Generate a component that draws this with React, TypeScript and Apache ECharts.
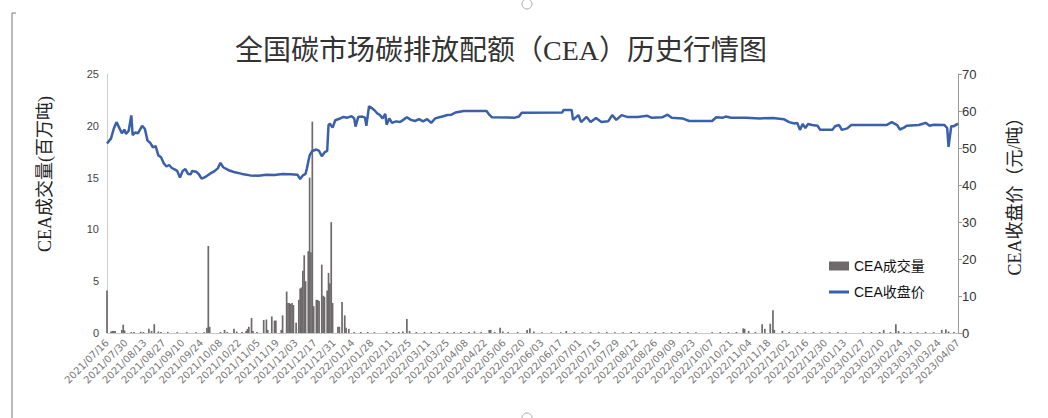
import React, { useEffect, useRef } from "react";
import * as echarts from "echarts";

const START_DATE = "2021-07-16";
const END_DATE = "2023-04-07";
const chartTitle = "全国碳市场碳排放配额（CEA）历史行情图";
const leftAxisName = "CEA成交量(百万吨)";
const rightAxisName = "CEA收盘价（元/吨）";
const volumeName = "CEA成交量";
const priceName = "CEA收盘价";
const volumeTicks = [0, 5, 10, 15, 20, 25];
const priceTicks = [0, 10, 20, 30, 40, 50, 60, 70];
const dateTickDays = 14;

// CEA closing price (yuan/ton)
const priceData: [string, number][] = [
  ["2021-07-16", 51.2], ["2021-07-19", 52.6], ["2021-07-21", 55.2], ["2021-07-23", 57.0],
  ["2021-07-25", 55.5], ["2021-07-27", 54.0], ["2021-07-29", 55.0], ["2021-07-30", 53.8],
  ["2021-08-01", 54.6], ["2021-08-03", 58.8], ["2021-08-04", 53.5], ["2021-08-06", 54.2],
  ["2021-08-08", 54.0], ["2021-08-11", 56.0], ["2021-08-13", 55.2], ["2021-08-15", 52.0],
  ["2021-08-17", 51.4], ["2021-08-19", 50.2], ["2021-08-21", 50.5], ["2021-08-23", 48.0],
  ["2021-08-25", 47.5], ["2021-08-27", 45.9], ["2021-08-29", 45.0], ["2021-08-31", 45.4],
  ["2021-09-02", 44.6], ["2021-09-04", 44.2], ["2021-09-06", 43.8], ["2021-09-08", 42.0],
  ["2021-09-10", 43.8], ["2021-09-12", 44.3], ["2021-09-14", 43.0], ["2021-09-16", 42.9],
  ["2021-09-17", 43.8], ["2021-09-20", 43.6], ["2021-09-22", 42.9], ["2021-09-24", 41.7],
  ["2021-09-27", 42.2], ["2021-09-30", 43.0], ["2021-10-03", 43.6], ["2021-10-06", 44.5],
  ["2021-10-08", 46.0], ["2021-10-10", 44.8], ["2021-10-14", 44.0], ["2021-10-18", 43.5],
  ["2021-10-24", 43.0], ["2021-10-30", 42.6], ["2021-11-05", 42.5], ["2021-11-11", 42.8],
  ["2021-11-17", 42.7], ["2021-11-23", 43.0], ["2021-11-29", 42.9], ["2021-12-04", 42.8],
  ["2021-12-06", 41.6], ["2021-12-08", 42.6], ["2021-12-10", 43.0], ["2021-12-11", 44.5],
  ["2021-12-13", 48.0], ["2021-12-15", 49.2], ["2021-12-18", 49.6], ["2021-12-20", 49.2],
  ["2021-12-22", 47.8], ["2021-12-24", 48.8], ["2021-12-26", 49.2], ["2021-12-27", 56.2],
  ["2021-12-28", 56.6], ["2021-12-30", 55.5], ["2022-01-01", 57.5], ["2022-01-04", 57.9],
  ["2022-01-07", 58.4], ["2022-01-10", 58.2], ["2022-01-13", 58.6], ["2022-01-15", 58.0],
  ["2022-01-16", 55.8], ["2022-01-18", 58.4], ["2022-01-21", 58.5], ["2022-01-23", 58.2],
  ["2022-01-24", 56.0], ["2022-01-26", 61.3], ["2022-01-28", 60.8], ["2022-01-30", 60.2],
  ["2022-02-01", 59.4], ["2022-02-03", 58.9], ["2022-02-05", 58.0], ["2022-02-07", 59.2],
  ["2022-02-08", 56.3], ["2022-02-10", 58.0], ["2022-02-12", 56.8], ["2022-02-15", 57.2],
  ["2022-02-18", 57.0], ["2022-02-21", 57.8], ["2022-02-23", 58.3], ["2022-02-26", 57.6],
  ["2022-03-01", 57.3], ["2022-03-04", 57.8], ["2022-03-07", 57.2], ["2022-03-10", 57.8],
  ["2022-03-13", 56.8], ["2022-03-16", 58.0], ["2022-03-19", 58.3], ["2022-03-22", 58.6],
  ["2022-03-25", 58.9], ["2022-03-28", 59.0], ["2022-03-31", 59.6], ["2022-04-03", 59.8],
  ["2022-04-06", 60.0], ["2022-04-23", 60.0], ["2022-04-25", 59.0], ["2022-04-27", 58.3],
  ["2022-05-14", 58.2], ["2022-05-17", 58.5], ["2022-05-19", 59.5], ["2022-06-18", 59.6],
  ["2022-06-19", 60.3], ["2022-06-25", 60.3], ["2022-06-26", 57.6], ["2022-06-30", 58.9],
  ["2022-07-02", 57.0], ["2022-07-06", 58.4], ["2022-07-09", 57.0], ["2022-07-13", 58.1],
  ["2022-07-17", 57.0], ["2022-07-22", 57.2], ["2022-07-25", 58.9], ["2022-07-28", 57.6],
  ["2022-08-01", 58.9], ["2022-08-05", 58.4], ["2022-08-13", 58.4], ["2022-08-20", 58.7],
  ["2022-08-23", 58.2], ["2022-08-31", 58.3], ["2022-09-04", 59.0], ["2022-09-07", 58.2],
  ["2022-09-15", 58.0], ["2022-09-20", 57.3], ["2022-10-07", 57.3], ["2022-10-10", 58.3],
  ["2022-10-15", 58.2], ["2022-10-17", 58.5], ["2022-10-21", 58.2], ["2022-11-01", 58.2],
  ["2022-11-11", 58.0], ["2022-11-21", 58.1], ["2022-11-29", 57.8], ["2022-12-03", 57.0],
  ["2022-12-07", 56.6], ["2022-12-09", 56.8], ["2022-12-11", 54.9], ["2022-12-13", 56.5],
  ["2022-12-15", 55.4], ["2022-12-17", 56.5], ["2022-12-20", 56.2], ["2022-12-24", 56.0],
  ["2022-12-26", 54.9], ["2023-01-04", 54.9], ["2023-01-06", 55.9], ["2023-01-09", 56.2],
  ["2023-01-11", 54.9], ["2023-01-15", 55.3], ["2023-01-18", 56.2], ["2023-02-13", 56.2],
  ["2023-02-17", 57.0], ["2023-02-21", 56.2], ["2023-02-23", 55.0], ["2023-02-26", 55.5],
  ["2023-02-28", 56.0], ["2023-03-09", 56.2], ["2023-03-14", 56.8], ["2023-03-17", 56.0],
  ["2023-03-20", 56.3], ["2023-03-28", 56.2], ["2023-03-30", 55.4], ["2023-03-31", 50.3],
  ["2023-04-02", 55.9], ["2023-04-04", 55.9], ["2023-04-07", 56.6],
];

// CEA trading volume (million tons)
const volumeData: [string, number][] = [
  ["2021-07-16", 4.1], ["2021-07-19", 0.15], ["2021-07-20", 0.2], ["2021-07-21", 0.2],
  ["2021-07-22", 0.2], ["2021-07-27", 0.3], ["2021-07-28", 0.8], ["2021-07-29", 0.25],
  ["2021-08-03", 0.1], ["2021-08-05", 0.1], ["2021-08-10", 0.12], ["2021-08-12", 0.1],
  ["2021-08-16", 0.4], ["2021-08-18", 0.2], ["2021-08-20", 0.85], ["2021-08-23", 0.15],
  ["2021-08-25", 0.1], ["2021-08-30", 0.1], ["2021-09-06", 0.08], ["2021-09-13", 0.08],
  ["2021-09-20", 0.08], ["2021-09-26", 0.08], ["2021-09-28", 0.5], ["2021-09-29", 8.4],
  ["2021-09-30", 0.6], ["2021-10-08", 0.1], ["2021-10-11", 0.3], ["2021-10-13", 0.1],
  ["2021-10-18", 0.4], ["2021-10-20", 0.15], ["2021-10-24", 0.1], ["2021-10-27", 0.2],
  ["2021-10-28", 0.4], ["2021-10-29", 0.6], ["2021-10-31", 1.45], ["2021-11-01", 0.2],
  ["2021-11-04", 0.1], ["2021-11-09", 1.25], ["2021-11-11", 1.3], ["2021-11-12", 0.3],
  ["2021-11-15", 1.6], ["2021-11-17", 1.2], ["2021-11-18", 1.2], ["2021-11-22", 0.3],
  ["2021-11-23", 1.7], ["2021-11-26", 4.0], ["2021-11-27", 2.9], ["2021-11-28", 2.9],
  ["2021-11-29", 2.8], ["2021-11-30", 2.9], ["2021-12-01", 2.7], ["2021-12-03", 1.0],
  ["2021-12-05", 3.2], ["2021-12-06", 4.3], ["2021-12-07", 4.4], ["2021-12-08", 6.0],
  ["2021-12-09", 7.5], ["2021-12-10", 5.0], ["2021-12-12", 7.9], ["2021-12-13", 15.0],
  ["2021-12-14", 7.8], ["2021-12-15", 20.4], ["2021-12-16", 2.6], ["2021-12-18", 3.2],
  ["2021-12-19", 3.2], ["2021-12-20", 3.1], ["2021-12-22", 6.6], ["2021-12-23", 3.6],
  ["2021-12-24", 3.5], ["2021-12-26", 4.1], ["2021-12-27", 5.8], ["2021-12-28", 4.8],
  ["2021-12-29", 10.7], ["2021-12-30", 2.9], ["2022-01-03", 0.6], ["2022-01-04", 0.6],
  ["2022-01-06", 3.0], ["2022-01-08", 1.7], ["2022-01-09", 0.5], ["2022-01-11", 0.4],
  ["2022-01-15", 0.1], ["2022-01-20", 0.1], ["2022-01-25", 0.1], ["2022-01-30", 0.08],
  ["2022-02-08", 0.1], ["2022-02-13", 0.1], ["2022-02-17", 0.1], ["2022-02-20", 0.15],
  ["2022-02-23", 1.35], ["2022-02-25", 0.2], ["2022-03-02", 0.1], ["2022-03-08", 0.1],
  ["2022-03-13", 0.1], ["2022-03-19", 0.1], ["2022-03-25", 0.1], ["2022-03-30", 0.1],
  ["2022-04-04", 0.1], ["2022-04-10", 0.1], ["2022-04-14", 0.15], ["2022-04-19", 0.1],
  ["2022-04-25", 0.3], ["2022-04-26", 0.3], ["2022-04-29", 0.1], ["2022-05-03", 0.5],
  ["2022-05-05", 0.15], ["2022-05-09", 0.1], ["2022-05-16", 0.1], ["2022-05-23", 0.3],
  ["2022-05-25", 0.45], ["2022-05-28", 0.15], ["2022-06-03", 0.08], ["2022-06-10", 0.08],
  ["2022-06-17", 0.08], ["2022-06-21", 0.2], ["2022-06-27", 0.1], ["2022-07-03", 0.08],
  ["2022-07-09", 0.1], ["2022-07-15", 0.08], ["2022-07-21", 0.1], ["2022-07-27", 0.08],
  ["2022-08-02", 0.08], ["2022-08-08", 0.1], ["2022-08-14", 0.08], ["2022-08-20", 0.08],
  ["2022-08-26", 0.1], ["2022-09-01", 0.08], ["2022-09-07", 0.08], ["2022-09-13", 0.1],
  ["2022-09-19", 0.08], ["2022-09-25", 0.08], ["2022-10-07", 0.08], ["2022-10-13", 0.1],
  ["2022-10-19", 0.08], ["2022-10-25", 0.1], ["2022-10-30", 0.45], ["2022-10-31", 0.4],
  ["2022-11-03", 0.2], ["2022-11-08", 0.1], ["2022-11-13", 0.85], ["2022-11-15", 0.4],
  ["2022-11-19", 0.9], ["2022-11-21", 2.2], ["2022-11-22", 0.3], ["2022-11-28", 0.2],
  ["2022-12-03", 0.1], ["2022-12-09", 0.1], ["2022-12-15", 0.08], ["2022-12-21", 0.1],
  ["2022-12-27", 0.08], ["2023-01-02", 0.08], ["2023-01-08", 0.1], ["2023-01-14", 0.08],
  ["2023-01-27", 0.08], ["2023-02-02", 0.1], ["2023-02-08", 0.1], ["2023-02-11", 0.3],
  ["2023-02-16", 0.1], ["2023-02-20", 0.85], ["2023-02-22", 0.2], ["2023-02-26", 0.1],
  ["2023-03-03", 0.1], ["2023-03-08", 0.08], ["2023-03-14", 0.1], ["2023-03-20", 0.08],
  ["2023-03-26", 0.3], ["2023-03-29", 0.35], ["2023-03-31", 0.15], ["2023-04-04", 0.1],
];

const DAY = 86400000;
const startMs = Date.parse(START_DATE + "T00:00:00Z");
const toDay = (s: string) => Math.round((Date.parse(s + "T00:00:00Z") - startMs) / DAY);
const pad = (n: number) => (n < 10 ? "0" + n : "" + n);
const fmtDay = (v: number) => {
  const d = new Date(startMs + Math.round(v) * DAY);
  return `${d.getUTCFullYear()}/${pad(d.getUTCMonth() + 1)}/${pad(d.getUTCDate())}`;
};

const CJK = "'Noto Sans CJK SC'";
const PRICE_COLOR = "#3a5fab";
const VOLUME_COLOR = "#6e696a";

export default function App() {
  const ref = useRef<HTMLDivElement>(null);
  useEffect(() => {
    if (!ref.current) return;
    const chart = echarts.init(ref.current, undefined, { renderer: "svg" });
    const totalDays = toDay(END_DATE);
    chart.setOption({
      animation: false,
      backgroundColor: "#ffffff",
      grid: { left: 107, right: 90, top: 74, bottom: 85 },
      legend: {
        orient: "vertical",
        left: 824,
        top: 254,
        itemWidth: 20,
        itemHeight: 9,
        itemGap: 12,
        textStyle: { fontSize: 14, color: "#111", fontFamily: `'Liberation Sans', ${CJK}` },
        data: [
          { name: volumeName, icon: "rect" },
          { name: priceName, icon: "path://M0,0H20V3H0Z" },
        ],
      },
      xAxis: {
        type: "value",
        min: 0,
        max: totalDays,
        interval: dateTickDays,
        splitLine: { show: false },
        axisLine: { show: true, lineStyle: { color: "#c8c8c8", width: 1 } },
        axisTick: { show: false },
        axisLabel: {
          rotate: 45,
          fontSize: 10,
          margin: 8,
          color: "#777",
          fontFamily: "'DejaVu Sans'",
          formatter: (v: number) => fmtDay(v),
        },
      },
      yAxis: [
        {
          type: "value",
          min: volumeTicks[0],
          max: volumeTicks[volumeTicks.length - 1],
          interval: volumeTicks[1] - volumeTicks[0],
          splitLine: { show: false },
          axisLine: { show: true, lineStyle: { color: "#cfcfcf" } },
          axisTick: { show: false },
          axisLabel: { fontSize: 11, color: "#444", margin: 8, fontFamily: "'Liberation Sans'" },
        },
        {
          type: "value",
          min: priceTicks[0],
          max: priceTicks[priceTicks.length - 1],
          interval: priceTicks[1] - priceTicks[0],
          splitLine: { show: false },
          axisLine: { show: true, lineStyle: { color: "#9a9a9a" } },
          axisTick: { show: true, length: 4, lineStyle: { color: "#9a9a9a" } },
          axisLabel: { fontSize: 13, color: "#333", margin: 4, fontFamily: "'Liberation Sans'" },
        },
      ],
      series: [
        {
          name: volumeName,
          type: "bar",
          yAxisIndex: 0,
          barWidth: 1.7,
          itemStyle: { color: VOLUME_COLOR },
          data: volumeData.map(([d, v]) => [toDay(d), v]),
        },
        {
          name: priceName,
          type: "line",
          yAxisIndex: 1,
          symbol: "none",
          showSymbol: false,
          lineStyle: { color: PRICE_COLOR, width: 2.5 },
          itemStyle: { color: PRICE_COLOR },
          data: priceData.map(([d, v]) => [toDay(d), v]),
        },
      ],
      graphic: [
        {
          type: "text",
          x: 501,
          y: 50,
          style: {
            text: chartTitle,
            fontSize: 28,
            fill: "#333",
            fontFamily: `'Liberation Serif', ${CJK}`,
            align: "center",
            verticalAlign: "middle",
          },
        },
        {
          type: "text",
          x: 45,
          y: 174,
          rotation: Math.PI / 2,
          style: {
            text: leftAxisName,
            fontSize: 18,
            fill: "#222",
            fontFamily: `'Liberation Serif', ${CJK}`,
            align: "center",
            verticalAlign: "middle",
          },
        },
        {
          type: "text",
          x: 1015,
          y: 192,
          rotation: Math.PI / 2,
          style: {
            text: rightAxisName,
            fontSize: 18,
            fill: "#222",
            fontFamily: `'Liberation Serif', ${CJK}`,
            align: "center",
            verticalAlign: "middle",
          },
        },
        {
          type: "line",
          shape: { x1: 12, y1: 13, x2: 12, y2: 418 },
          style: { stroke: "#777", lineWidth: 1 },
        },
        {
          type: "line",
          shape: { x1: 12, y1: 13, x2: 16, y2: 13 },
          style: { stroke: "#777", lineWidth: 1 },
        },
        {
          type: "circle",
          shape: { cx: 527, cy: 4, r: 5 },
          style: { fill: "none", stroke: "#aaa", lineWidth: 1 },
        },
        {
          type: "circle",
          shape: { cx: 527, cy: 418, r: 5 },
          style: { fill: "none", stroke: "#aaa", lineWidth: 1 },
        },
      ],
    });
    return () => chart.dispose();
  }, []);
  return (
    <div
      ref={ref}
      style={{ position: "fixed", left: 0, top: 0, width: 1048, height: 418 }}
    />
  );
}
